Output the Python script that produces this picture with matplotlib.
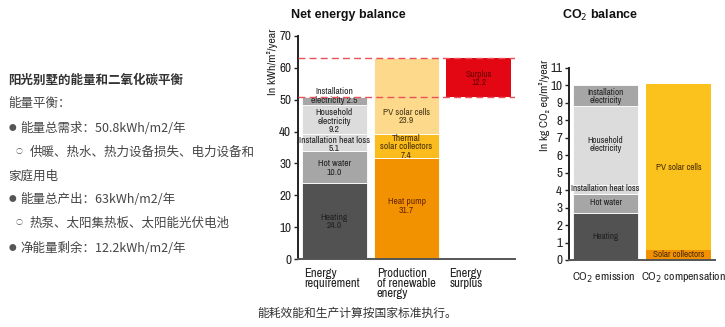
import matplotlib
matplotlib.use('AGG')

import matplotlib.pyplot as plt
from matplotlib import font_manager

names = {f.name for f in font_manager.fontManager.ttflist}
narrow = 'Archivo Narrow' if 'Archivo Narrow' in names else 'Liberation Sans'
plt.rcParams['font.family'] = [narrow, 'DejaVu Sans']
cjk = ['Noto Sans CJK SC', 'DejaVu Sans']

# Net energy balance (kWh/m2/year)
demand_labels = ['Heating\n24.0', 'Hot water\n10.0', 'Installation heat loss\n5.1',
                 'Household\nelectricity\n9.2', 'Installation\nelectricity 2.5']
demand_values = [24.0, 10.0, 5.1, 9.2, 2.5]
demand_colors = ['#525252', '#a6a6a6', '#dadada', '#dcdcdc', '#a6a6a6']

supply_labels = ['Heat pump\n31.7', 'Thermal\nsolar collectors\n7.4', 'PV solar cells\n23.9']
supply_values = [31.7, 7.4, 23.9]
supply_colors = ['#f39200', '#fbbd1e', '#fdd98c']
supply_text = ['#6a2800', '#4a3000', '#4a3c18']

surplus_value = 12.2
energy_categories = ['Energy\nrequirement', 'Production\nof renewable\nenergy', 'Energy\nsurplus']

# CO2 balance (kg CO2 eq/m2/year)
co2_emit_labels = ['Heating', 'Hot water', 'Installation heat loss',
                   'Household\nelectricity', 'Installation\nelectricity']
co2_emit_values = [2.7, 1.1, 0.5, 4.5, 1.2]
co2_emit_colors = ['#525252', '#a6a6a6', '#dadada', '#dcdcdc', '#a6a6a6']
co2_comp_labels = ['Solar collectors', 'PV solar cells']
co2_comp_values = [0.55, 9.55]
co2_comp_colors = ['#f39200', '#fbc21e']
co2_categories = ['CO$_2$ emission', 'CO$_2$ compensation']

# label anchor heights inside the stacks (data units)
demand_label_y = [11.7, 28.6, 36.0, 43.3, 51.2]
supply_label_y = [16.6, 35.2, 44.7]
co2_emit_label_y = [1.37, 3.27, 4.1, 6.6, 9.37]
co2_comp_label_y = [0.29, 5.3]

# (text, marker)
side_lines = [
    ('阳光别墅的能量和二氧化碳平衡', None),
    ('能量平衡：', None),
    ('能量总需求：50.8kWh/m2/年', '●'),
    ('供暖、热水、热力设备损失、电力设备和', '○'),
    ('家庭用电', None),
    ('能量总产出：63kWh/m2/年', '●'),
    ('热泵、太阳集热板、太阳能光伏电池', '○'),
    ('净能量剩余：12.2kWh/m2/年', '●'),
]
side_y = [80, 104, 128, 152, 176, 199, 223, 248]
caption = '能耗效能和生产计算按国家标准执行。'

W, H = 725, 327
fig = plt.figure(figsize=(W / 100, H / 100), dpi=100)


def px_axes(x0, y0, x1, y1):
    # pixel box (top-left origin) to figure fraction
    return fig.add_axes([x0 / W, 1 - y1 / H, (x1 - x0) / W, (y1 - y0) / H])


def style(ax):
    for s in ['top', 'right']:
        ax.spines[s].set_visible(False)
    ax.spines['left'].set_linewidth(1.4)
    ax.spines['bottom'].set_linewidth(1.4)
    ax.spines['left'].set_color('#222222')
    ax.spines['bottom'].set_color('#555555')
    ax.tick_params(axis='y', length=3, width=1, labelsize=9.5, pad=2, colors='#222222')
    ax.tick_params(axis='x', length=0, labelbottom=False)


# ---- left text block
for i, ((txt, mark), y) in enumerate(zip(side_lines, side_y)):
    x = 8
    if mark == '●':
        fig.text(9 / W, 1 - y / H, mark, fontsize=5.5, va='center', ha='left',
                 color='#555555', family=cjk)
        x = 20
    elif mark == '○':
        fig.text(16 / W, 1 - y / H, mark, fontsize=5, va='center', ha='left',
                 color='#555555', family=cjk)
        x = 30
    fig.text(x / W, 1 - y / H, txt, fontsize=9, va='center', ha='left', family=cjk,
             color='#333333' if i == 0 else '#444444',
             fontweight='bold' if i == 0 else 'normal')
fig.text(357 / W, 1 - 313 / H, caption, fontsize=8.5, ha='center', va='center',
         color='#333333', family=cjk)

# ---- net energy balance
ax1 = px_axes(298, 36, 515, 259)
style(ax1)
ax1.set_xlim(-0.5, 2.5)
ax1.set_ylim(0, 70)
ax1.set_yticks(range(0, 71, 10))
ax1.spines['left'].set_bounds(0, 70)

bw = 0.9
bottom = 0
for lab, v, c, ly in zip(demand_labels, demand_values, demand_colors, demand_label_y):
    ax1.bar(0, v, bw, bottom=bottom, color=c, edgecolor='white', linewidth=0.6)
    ax1.text(0, ly, lab, ha='center', va='center', fontsize=6.8,
             color='#222222', linespacing=0.9)
    bottom += v
demand_total = bottom

bottom = 0
for lab, v, c, tc, ly in zip(supply_labels, supply_values, supply_colors, supply_text,
                             supply_label_y):
    ax1.bar(1, v, bw, bottom=bottom, color=c, edgecolor='white', linewidth=0.6)
    ax1.text(1, ly, lab, ha='center', va='center', fontsize=6.8,
             color=tc, linespacing=0.9)
    bottom += v
supply_total = bottom

ax1.bar(2, surplus_value, bw, bottom=demand_total, color='#e30613')
ax1.text(2, demand_total + surplus_value / 2 - 0.3, 'Surplus\n' + f'{surplus_value:.1f}',
         ha='center', va='center', fontsize=6.8, color='#6a0000', linespacing=0.9)

for yv in (demand_total, supply_total):
    ax1.axhline(yv, color='#e8505a', linestyle=(0, (5, 3)), linewidth=1, zorder=5)

for i, lab in enumerate(energy_categories):
    ax1.text(i - 0.41, -2.8, lab, ha='left', va='top', fontsize=9,
             color='#222222', linespacing=0.9)

fig.text(348 / W, 1 - 15 / H, 'Net energy balance', fontsize=9, fontweight='bold',
         ha='center', va='center', color='#111111', family='Liberation Sans')
fig.text(272 / W, 1 - 62 / H, 'In kWh/m²/year', fontsize=8.5, rotation=90,
         ha='center', va='center', color='#222222')

# ---- CO2 balance
ax2 = px_axes(569, 68, 715, 260)
style(ax2)
ax2.set_xlim(-0.5, 1.5)
ax2.set_ylim(0, 11)
ax2.set_yticks(range(0, 12))
ax2.spines['left'].set_bounds(0, 11)

bottom = 0
for lab, v, c, ly in zip(co2_emit_labels, co2_emit_values, co2_emit_colors, co2_emit_label_y):
    ax2.bar(0, v, bw, bottom=bottom, color=c, edgecolor='white', linewidth=0.6)
    ax2.text(0, ly, lab, ha='center', va='center', fontsize=6.6,
             color='#222222', linespacing=0.9)
    bottom += v

bottom = 0
for lab, v, c, ly in zip(co2_comp_labels, co2_comp_values, co2_comp_colors, co2_comp_label_y):
    ax2.bar(1, v, bw, bottom=bottom, color=c, linewidth=0)
    ax2.text(1, ly, lab, ha='center', va='center', fontsize=6.6, color='#4a2c00')
    bottom += v

for i, lab in enumerate(co2_categories):
    ax2.text(i + 0.1 * i - 0.03, -0.6, lab, ha='center', va='top', fontsize=8.5,
             color='#222222')

fig.text(600 / W, 1 - 15 / H, 'CO$_2$ balance', fontsize=9, fontweight='bold',
         ha='center', va='center', color='#111111', family='Liberation Sans')
fig.text(544 / W, 1 - 105 / H, 'In kg CO₂ eq/m²/year', fontsize=8.5, rotation=90,
         ha='center', va='center', color='#222222')

plt.savefig('out.png', dpi=100)
plt.close(fig)
